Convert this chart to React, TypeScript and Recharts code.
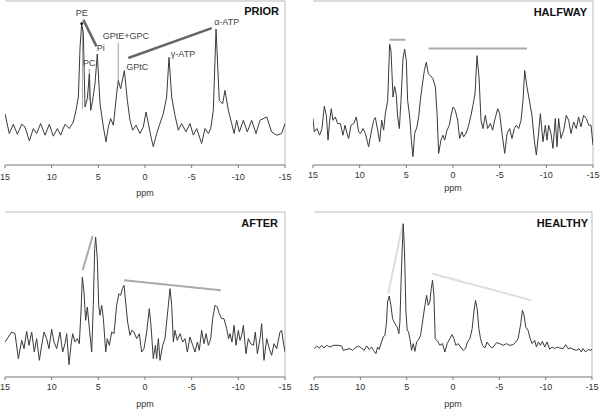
import { LineChart, Line, XAxis, YAxis, ReferenceLine, ReferenceDot } from "recharts"

type Pt = [number, number]
type Seg = { from: Pt; to: Pt; color: string; width: number }
type Note = [string, number, number]

const xTicks = [15, 10, 5, 0, -5, -10, -15]

// [ppm, intensity]
const prior: Pt[] = [
  [15.0, 155], [14.54, 95], [14.11, 123], [13.68, 93], [13.21, 123], [12.86, 115], [12.39, 73], [11.96, 110],
  [11.61, 95], [11.18, 125], [10.71, 90], [10.25, 123], [9.82, 87], [9.39, 110], [9.04, 90], [8.57, 123],
  [8.11, 110], [7.68, 130], [7.39, 165], [7.14, 205], [6.96, 355], [6.79, 425], [6.61, 400], [6.43, 175],
  [6.18, 200], [5.96, 275], [5.82, 165], [5.61, 195], [5.36, 245], [5.11, 335], [4.82, 185], [4.46, 115],
  [4.18, 70], [3.93, 115], [3.68, 140], [3.39, 120], [3.04, 215], [2.86, 255], [2.61, 230], [2.21, 285],
  [1.89, 195], [1.61, 135], [1.32, 105], [0.96, 120], [0.54, 95], [0.18, 115], [-0.11, 160], [-0.36, 125],
  [-0.64, 85], [-0.89, 55], [-1.25, 95], [-1.54, 120], [-1.96, 155], [-2.32, 205], [-2.57, 325], [-2.86, 205],
  [-3.21, 150], [-3.57, 105], [-3.93, 125], [-4.39, 100], [-4.82, 125], [-5.18, 90], [-5.54, 110], [-6.07, 65],
  [-6.43, 110], [-6.79, 95], [-7.04, 110], [-7.32, 165], [-7.61, 410], [-7.96, 195], [-8.32, 185], [-8.57, 225],
  [-8.93, 165], [-9.29, 125], [-9.54, 95], [-9.82, 135], [-10.11, 100], [-10.54, 135], [-10.96, 100], [-11.43, 135],
  [-11.89, 95], [-12.32, 135], [-13.04, 145], [-13.57, 100], [-14.11, 90], [-14.64, 95], [-15.0, 125],
]

const halfway: Pt[] = [
  [15.0, 140], [14.86, 100], [14.57, 110], [14.29, 90], [14.04, 110], [13.79, 177], [13.57, 150], [13.39, 75],
  [13.21, 135], [13.04, 170], [12.86, 135], [12.61, 145], [12.36, 125], [12.07, 125], [11.79, 90], [11.57, 120],
  [11.36, 95], [11.18, 80], [10.93, 120], [10.64, 125], [10.36, 145], [10.11, 100], [9.93, 95], [9.64, 110],
  [9.39, 95], [9.04, 55], [8.79, 95], [8.5, 135], [8.32, 143], [8.07, 105], [7.86, 70], [7.64, 135],
  [7.43, 105], [7.25, 155], [7.0, 195], [6.79, 365], [6.64, 345], [6.43, 205], [6.25, 237], [6.07, 210],
  [5.93, 145], [5.75, 110], [5.57, 195], [5.36, 320], [5.18, 350], [5.0, 315], [4.86, 195], [4.64, 145],
  [4.46, 75], [4.29, 25], [4.11, 95], [3.86, 115], [3.68, 145], [3.5, 195], [3.32, 235], [3.07, 285],
  [2.86, 310], [2.64, 275], [2.43, 270], [2.14, 260], [1.89, 235], [1.71, 155], [1.54, 35], [1.29, 75],
  [1.07, 90], [0.89, 75], [0.64, 105], [0.39, 120], [0.21, 150], [0.0, 175], [-0.25, 165], [-0.5, 135],
  [-0.71, 80], [-0.96, 100], [-1.14, 85], [-1.39, 95], [-1.68, 120], [-1.93, 150], [-2.14, 180], [-2.36, 215],
  [-2.57, 330], [-2.79, 265], [-3.0, 135], [-3.21, 110], [-3.46, 150], [-3.71, 110], [-4.0, 125], [-4.25, 105],
  [-4.46, 135], [-4.79, 170], [-5.0, 155], [-5.25, 95], [-5.54, 35], [-5.79, 95], [-6.07, 110], [-6.32, 80],
  [-6.57, 110], [-6.79, 120], [-7.04, 110], [-7.29, 135], [-7.5, 195], [-7.68, 285], [-7.93, 235], [-8.21, 190],
  [-8.46, 150], [-8.71, 75], [-8.93, 30], [-9.18, 100], [-9.36, 155], [-9.64, 70], [-9.89, 120], [-10.07, 75],
  [-10.25, 120], [-10.5, 95], [-10.71, 50], [-10.96, 140], [-11.14, 55], [-11.32, 140], [-11.57, 80], [-11.86, 105],
  [-12.14, 150], [-12.39, 135], [-12.64, 95], [-12.93, 130], [-13.21, 110], [-13.46, 145], [-13.71, 115], [-14.0, 150],
  [-14.29, 140], [-14.54, 120], [-14.79, 120], [-15.0, 60],
]

const after: Pt[] = [
  [15.0, 105], [14.64, 120], [14.29, 135], [13.93, 130], [13.57, 55], [13.21, 110], [12.96, 85], [12.68, 137],
  [12.43, 95], [12.14, 135], [11.86, 75], [11.61, 115], [11.32, 50], [11.07, 95], [10.82, 135], [10.54, 115],
  [10.29, 85], [10.0, 143], [9.75, 105], [9.46, 85], [9.11, 135], [8.82, 75], [8.57, 100], [8.39, 130],
  [8.14, 37], [7.93, 95], [7.75, 130], [7.5, 105], [7.25, 115], [7.04, 100], [6.86, 195], [6.71, 300],
  [6.54, 255], [6.36, 170], [6.18, 210], [5.96, 145], [5.71, 75], [5.54, 215], [5.39, 385], [5.29, 420],
  [5.11, 355], [4.96, 215], [4.82, 185], [4.64, 215], [4.46, 175], [4.21, 75], [4.04, 115], [3.82, 95],
  [3.57, 135], [3.32, 130], [3.04, 215], [2.79, 250], [2.61, 245], [2.43, 265], [2.25, 275], [2.04, 215],
  [1.86, 165], [1.61, 125], [1.43, 140], [1.18, 135], [0.89, 115], [0.61, 130], [0.36, 75], [0.11, 85],
  [-0.18, 135], [-0.46, 205], [-0.64, 155], [-0.89, 55], [-1.11, 95], [-1.25, 55], [-1.43, 115], [-1.61, 50],
  [-1.89, 95], [-2.14, 115], [-2.32, 165], [-2.5, 215], [-2.68, 265], [-2.86, 215], [-3.04, 105], [-3.21, 140],
  [-3.46, 110], [-3.75, 130], [-4.04, 105], [-4.29, 115], [-4.54, 75], [-4.82, 120], [-5.11, 95], [-5.36, 75],
  [-5.61, 105], [-5.82, 80], [-6.07, 140], [-6.32, 100], [-6.54, 130], [-6.79, 95], [-7.04, 115], [-7.25, 175],
  [-7.5, 215], [-7.75, 210], [-7.96, 190], [-8.21, 175], [-8.46, 175], [-8.75, 145], [-8.96, 115], [-9.11, 130],
  [-9.32, 105], [-9.54, 155], [-9.75, 95], [-10.0, 140], [-10.18, 110], [-10.36, 125], [-10.54, 155], [-10.82, 70],
  [-11.07, 115], [-11.32, 100], [-11.61, 95], [-11.82, 135], [-12.04, 70], [-12.32, 115], [-12.5, 160], [-12.75, 50],
  [-13.04, 115], [-13.32, 85], [-13.57, 65], [-13.82, 100], [-14.11, 85], [-14.46, 135], [-14.64, 140], [-14.82, 105],
  [-15.0, 75],
]

const healthy: Pt[] = [
  [15.0, 85], [14.71, 93], [14.43, 87], [14.17, 95], [13.92, 87], [13.63, 95], [13.28, 90], [12.92, 95],
  [12.38, 95], [12.02, 93], [11.84, 80], [11.48, 83], [11.12, 85], [10.83, 80], [10.58, 87], [10.22, 93],
  [9.86, 87], [9.61, 80], [9.32, 93], [9.04, 83], [8.78, 90], [8.6, 80], [8.32, 70], [8.14, 90],
  [7.96, 83], [7.71, 105], [7.53, 120], [7.35, 125], [7.17, 165], [7.06, 225], [6.88, 243], [6.7, 215],
  [6.52, 175], [6.27, 160], [6.02, 150], [5.84, 130], [5.73, 165], [5.55, 335], [5.37, 460], [5.23, 375],
  [5.08, 195], [4.94, 140], [4.8, 135], [4.65, 115], [4.47, 80], [4.29, 100], [4.11, 77], [3.93, 105],
  [3.75, 110], [3.5, 125], [3.29, 165], [3.03, 215], [2.85, 245], [2.67, 215], [2.5, 225], [2.35, 265],
  [2.21, 290], [2.06, 245], [1.92, 115], [1.78, 110], [1.6, 105], [1.42, 95], [1.13, 100], [0.88, 75],
  [0.63, 100], [0.34, 115], [0.09, 127], [-0.09, 115], [-0.31, 95], [-0.56, 100], [-0.81, 90], [-1.1, 80],
  [-1.35, 85], [-1.56, 105], [-1.82, 115], [-2.07, 145], [-2.25, 195], [-2.43, 230], [-2.61, 205], [-2.79, 145],
  [-2.97, 115], [-3.18, 95], [-3.43, 87], [-3.68, 105], [-3.97, 93], [-4.26, 87], [-4.69, 103], [-5.05, 100],
  [-5.41, 95], [-5.77, 100], [-6.13, 95], [-6.49, 97], [-6.78, 105], [-7.03, 115], [-7.31, 160], [-7.49, 200],
  [-7.67, 185], [-7.85, 150], [-8.1, 140], [-8.28, 120], [-8.53, 100], [-8.82, 110], [-9.0, 90], [-9.22, 105],
  [-9.43, 95], [-9.65, 107], [-9.9, 90], [-10.15, 105], [-10.44, 83], [-10.69, 90], [-10.98, 85], [-11.23, 90],
  [-11.52, 87], [-11.88, 85], [-12.16, 97], [-12.42, 85], [-12.67, 87], [-12.96, 83], [-13.32, 80], [-13.6, 85],
  [-13.85, 75], [-14.03, 85], [-14.32, 75], [-14.57, 83], [-14.82, 80], [-15.0, 83],
]

const priorTicks = [45, 100, 155, 210, 265, 320, 375, 430]
const halfwayTicks = [97, 195, 292, 390]
const afterTicks = [103, 200, 297, 395]
const healthyTicks = [85, 167, 250, 332, 415]

const priorSegs: Seg[] = [
  { from: [6.7, 415], to: [6.7, 170], color: "#aaa", width: 1 },
  { from: [5.96, 290], to: [5.96, 195], color: "#bbb", width: 1.5 },
  { from: [2.86, 370], to: [2.86, 255], color: "#bbb", width: 1.5 },
  { from: [6.6, 438], to: [5.2, 358], color: "#666", width: 2.5 },
  { from: [1.79, 323], to: [-7.15, 413], color: "#666", width: 2.5 },
]
const halfwaySegs: Seg[] = [
  { from: [6.79, 378], to: [5.11, 378], color: "#aaa", width: 2 },
  { from: [2.61, 352], to: [-7.93, 352], color: "#aaa", width: 2 },
]
const afterSegs: Seg[] = [
  { from: [6.68, 320], to: [5.61, 423], color: "#aaa", width: 2 },
  { from: [2.25, 290], to: [-8.11, 260], color: "#aaa", width: 2 },
]
const healthySegs: Seg[] = [
  { from: [6.99, 250], to: [5.44, 457], color: "#ddd", width: 2 },
  { from: [2.21, 310], to: [-8.46, 230], color: "#ddd", width: 2 },
]

const priorNotes: Note[] = [
  ["PE", 6.78, 460],
  ["Pi", 4.75, 355],
  ["PC", 5.97, 307],
  ["GPtE+GPC", 2.04, 390],
  ["GPtC", 0.82, 295],
  ["γ-ATP", -4.07, 336],
  ["α-ATP", -8.75, 433],
]

type PanelProps = {
  spectrum: Pt[]
  yTicks: number[]
  left: number
  top: number
  margin: { top: number; right: number; bottom: number; left: number }
  axisHeight: number
  tickGap: number
  ppmOffset: number
  segs: Seg[]
  notes?: Note[]
  dot?: Pt
}

function Panel(p: PanelProps) {
  const data = p.spectrum.map(([ppm, v]) => ({ ppm, v }))
  return (
    <div style={{ position: "absolute", left: p.left, top: p.top }}>
      <LineChart width={300} height={205} data={data} margin={p.margin}>
        <XAxis
          dataKey="ppm"
          type="number"
          domain={[-15, 15]}
          reversed
          ticks={xTicks}
          interval={0}
          height={p.axisHeight}
          tickSize={3}
          tickMargin={p.tickGap}
          stroke="#777"
          tick={{ fill: "#333", fontSize: 9 }}
          label={{ value: "ppm", position: "insideBottom", offset: p.ppmOffset, fill: "#333", fontSize: 9 }}
          allowDataOverflow
        />
        <YAxis
          type="number"
          domain={[0, 495]}
          ticks={p.yTicks}
          width={0}
          mirror
          tick={{ fill: "none", fontSize: 1 }}
          tickSize={3}
          stroke="#777"
          allowDataOverflow
        />
        <ReferenceLine y={495} stroke="#bbb" />
        <ReferenceLine x={-15} stroke="#bbb" />
        {p.segs.map((s, i) => (
          <ReferenceLine
            key={"s" + i}
            segment={[{ x: s.from[0], y: s.from[1] }, { x: s.to[0], y: s.to[1] }]}
            stroke={s.color}
            strokeWidth={s.width}
            ifOverflow="visible"
          />
        ))}
        <Line dataKey="v" type="linear" stroke="#3a3a3a" strokeWidth={1} dot={false} isAnimationActive={false} />
        {p.dot && <ReferenceDot x={p.dot[0]} y={p.dot[1]} r={1.5} fill="#222" stroke="none" />}
        {(p.notes || []).map(([t, x, y]) => (
          <ReferenceDot
            key={t}
            x={x}
            y={y}
            r={0.1}
            fill="none"
            stroke="none"
            ifOverflow="visible"
            label={{ value: t, position: "center", fill: "#444", fontSize: 9 }}
          />
        ))}
      </LineChart>
    </div>
  )
}

function Title({ text, right, cy }: { text: string; right: number; cy: number }) {
  return (
    <div
      style={{
        position: "absolute",
        left: right - 100,
        top: cy - 7,
        width: 100,
        textAlign: "right",
        fontSize: 11,
        fontWeight: "bold",
        lineHeight: "14px",
        color: "#111",
      }}
    >
      {text}
    </div>
  )
}

export default function App() {
  return (
    <div
      style={{
        position: "absolute",
        left: 0,
        top: 0,
        width: 600,
        height: 410,
        background: "#fff",
        fontFamily: "'Liberation Sans', Arial, sans-serif",
      }}
    >
      <Panel
        spectrum={prior}
        yTicks={priorTicks}
        left={0}
        top={0}
        margin={{ top: 1, right: 15, bottom: 0, left: 5 }}
        axisHeight={40}
        tickGap={6}
        ppmOffset={9}
        segs={priorSegs}
        notes={priorNotes}
        dot={[6.78, 427]}
      />
      <Panel
        spectrum={halfway}
        yTicks={halfwayTicks}
        left={300}
        top={0}
        margin={{ top: 1, right: 7, bottom: 0, left: 13 }}
        axisHeight={40}
        tickGap={4}
        ppmOffset={14}
        segs={halfwaySegs}
      />
      <Panel
        spectrum={after}
        yTicks={afterTicks}
        left={0}
        top={205}
        margin={{ top: 7, right: 15, bottom: 0, left: 5 }}
        axisHeight={33}
        tickGap={4}
        ppmOffset={3}
        segs={afterSegs}
      />
      <Panel
        spectrum={healthy}
        yTicks={healthyTicks}
        left={300}
        top={205}
        margin={{ top: 7, right: 8, bottom: 0, left: 14 }}
        axisHeight={33}
        tickGap={4}
        ppmOffset={3}
        segs={healthySegs}
      />
      <Title text="PRIOR" right={279} cy={11} />
      <Title text="HALFWAY" right={587} cy={12} />
      <Title text="AFTER" right={278} cy={223} />
      <Title text="HEALTHY" right={588} cy={223} />
    </div>
  )
}
